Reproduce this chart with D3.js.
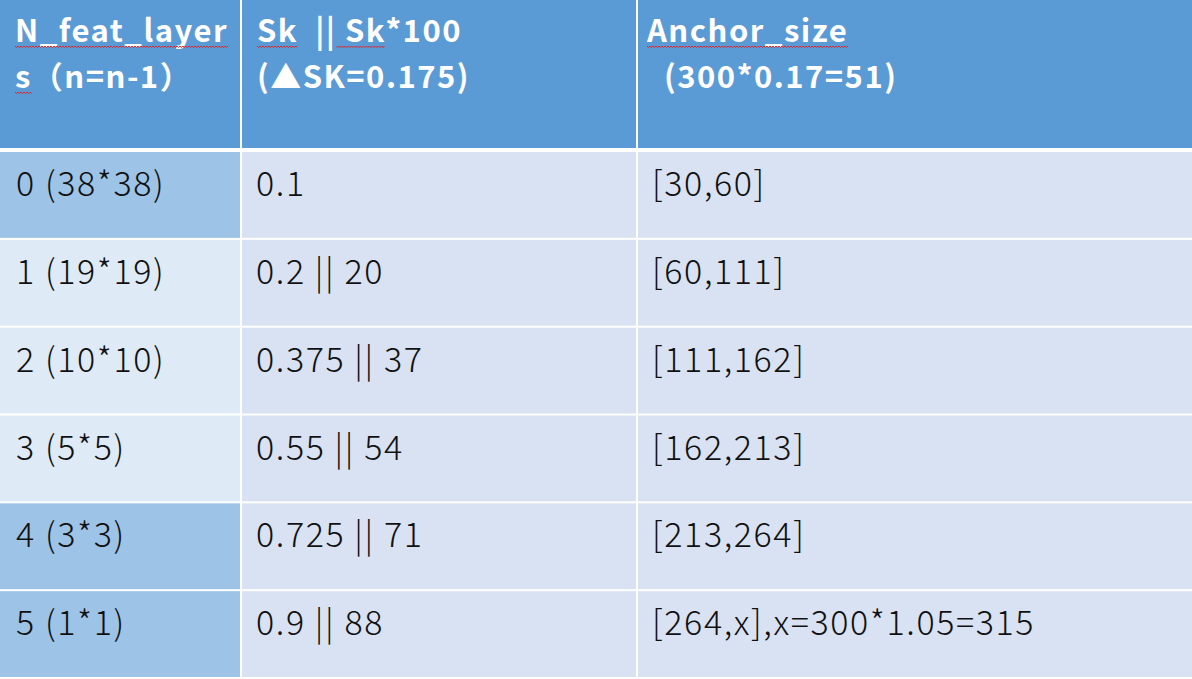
<!DOCTYPE html>
<html>
<head>
<meta charset="utf-8">
<script src="https://cdn.jsdelivr.net/npm/d3@7"></script>
<style>
  html, body { margin: 0; padding: 0; background: #fff; }
  svg { display: block; }
</style>
</head>
<body>
<div id="chart"></div>
<script>
// table contents
var layerIdx = [0, 1, 2, 3, 4, 5];
var featSize = ['38*38', '19*19', '10*10', '5*5', '3*3', '1*1'];
var skVals = ['0.1', '0.2', '0.375', '0.55', '0.725', '0.9'];
var skPct = [null, 20, 37, 54, 71, 88];
var anchorLo = [30, 60, 111, 162, 213, 264];
var anchorHi = ['60', '111', '162', '213', '264', 'x'];
var anchorNote = ['', '', '', '', '', ',x=300*1.05=315'];
var headLine1 = ['N_feat_layer', 'Sk  || Sk*100', 'Anchor_size'];
var headLine2 = ['s（n=n-1）', '(▲SK=0.175)', '  (300*0.17=51)'];
// which characters of the header get the red spell-check squiggle: [col, line, from, to]
var squiggles = [[0, 0, 0, 12], [0, 1, 0, 1], [1, 0, 0, 2], [1, 0, 6, 9], [2, 0, 0, 11]];
var darkFirstCol = [true, false, false, false, true, true];

function init() {
    'use strict';
    var W = 1192, H = 679;
    var colEdges = [0, 242, 638, W];
    var headH = 148;

    var svg = d3.select('#chart').append('svg')
        .attr('width', W).attr('height', H);

    var rows = layerIdx.map(function (d, i) {
        return [
            d + ' (' + featSize[i] + ')',
            skPct[i] === null ? skVals[i] : skVals[i] + ' || ' + skPct[i],
            '[' + anchorLo[i] + ',' + anchorHi[i] + ']' + anchorNote[i]
        ];
    });

    var y = d3.scaleBand()
        .domain(d3.range(rows.length))
        .range([152, 677])
        .paddingInner(0.023)
        .paddingOuter(0);

    function colX(c) { return colEdges[c]; }
    function colW(c) { return colEdges[c + 1] - colEdges[c] - (c < 2 ? 2 : 0); }

    // header
    var head = svg.append('g');
    head.selectAll('rect').data(headLine1).enter().append('rect')
        .attr('x', function (d, c) { return colX(c); })
        .attr('y', 0)
        .attr('width', function (d, c) { return colW(c); })
        .attr('height', headH)
        .attr('fill', '#5b9bd5');

    var headText = [];
    headLine1.forEach(function (t, c) {
        [t, headLine2[c]].forEach(function (line, l) {
            var node = head.append('text')
                .attr('x', colEdges[c] + (c === 2 ? 9 : 15))
                .attr('y', l === 0 ? 42 : 88)
                .attr('fill', '#ffffff')
                .attr('font-family', '"Noto Sans CJK SC", "Noto Sans", sans-serif')
                .attr('font-weight', 'bold')
                .attr('font-size', 31)
                .attr('letter-spacing', 1.5)
                .attr('xml:space', 'preserve')
                .style('white-space', 'pre')
                .text(line);
            headText.push({ c: c, l: l, node: node.node() });
        });
    });

    // red squiggles under header words
    squiggles.forEach(function (s) {
        var item = headText.filter(function (h) { return h.c === s[0] && h.l === s[1]; })[0];
        var n = item.node;
        var x0 = n.getStartPositionOfChar(s[2]).x;
        var x1 = n.getEndPositionOfChar(s[3] - 1).x;
        var by = +n.getAttribute('y') + 4;
        var pts = [];
        for (var x = x0, k = 0; x <= x1; x += 1.5, k++) {
            pts.push([x, by + (k % 2 === 0 ? 0 : 1.6)]);
        }
        head.append('path')
            .attr('d', d3.line()(pts))
            .attr('fill', 'none')
            .attr('stroke', '#e0262b')
            .attr('stroke-width', 1);
    });

    // body
    var body = svg.append('g');
    var rowG = body.selectAll('g.row').data(rows).enter().append('g')
        .attr('class', 'row')
        .attr('transform', function (d, i) { return 'translate(0,' + y(i) + ')'; });

    var cells = rowG.selectAll('g.cell')
        .data(function (d, i) { return d.map(function (t, c) { return { t: t, c: c, r: i }; }); })
        .enter().append('g').attr('class', 'cell');

    cells.append('rect')
        .attr('x', function (d) { return colX(d.c); })
        .attr('y', 0)
        .attr('width', function (d) { return colW(d.c); })
        .attr('height', y.bandwidth())
        .attr('fill', function (d) {
            if (d.c === 0) { return darkFirstCol[d.r] ? '#9dc3e6' : '#deeaf6'; }
            return '#d9e2f3';
        });

    cells.append('text')
        .attr('x', function (d) { return colEdges[d.c] + (d.c === 0 ? 16 : 14); })
        .attr('y', 44)
        .attr('fill', '#111')
        .attr('font-family', '"Noto Sans CJK SC", "Noto Sans", sans-serif')
        .attr('font-weight', 300)
        .attr('font-size', 34)
        .attr('letter-spacing', 1.6)
        .text(function (d) { return d.t; });
}

window.onload = init;
</script>
</body>
</html>
